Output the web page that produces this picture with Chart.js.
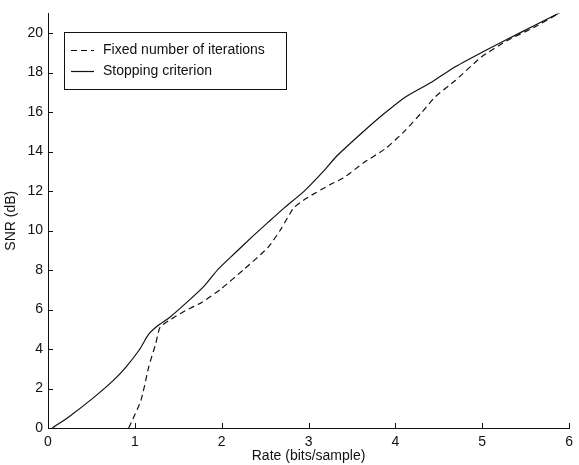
<!DOCTYPE html>
<html>
<head>
<meta charset="utf-8">
<script src="https://cdn.jsdelivr.net/npm/chart.js@4/dist/chart.umd.min.js"></script>
<style>
  html, body { margin: 0; padding: 0; background: #fff; }
  #wrap { width: 579px; height: 465px; }
</style>
</head>
<body>
<div id="wrap"><canvas id="chartCanvas"></canvas></div>
<script>
// data
const rateFixed = [0.93, 1.07, 1.16, 1.24, 1.29, 1.39, 1.58, 1.77, 1.99, 2.26, 2.53, 2.68, 2.83, 2.98, 3.25, 3.4, 3.63, 3.89, 4.12, 4.31, 4.46, 4.69, 4.99, 5.29, 5.6, 5.9];
const snrFixed  = [0, 1.4, 3.1, 4.27, 5.1, 5.44, 5.94, 6.36, 7.04, 8.05, 9.13, 10.06, 11.15, 11.65, 12.33, 12.66, 13.42, 14.17, 15.1, 16.02, 16.78, 17.6, 18.79, 19.63, 20.3, 21.05];

const rateStop = [0.05, 0.25, 0.5, 0.75, 0.9, 1.05, 1.16, 1.27, 1.4, 1.62, 1.8, 1.96, 2.15, 2.34, 2.53, 2.72, 2.95, 3.17, 3.32, 3.59, 3.85, 4.12, 4.42, 4.69, 5.07, 5.45, 5.9];
const snrStop  = [0, 0.6, 1.45, 2.4, 3.1, 3.95, 4.75, 5.2, 5.6, 6.45, 7.2, 8.05, 8.85, 9.64, 10.4, 11.15, 12.0, 13.0, 13.75, 14.85, 15.85, 16.78, 17.53, 18.3, 19.2, 20.05, 21.05];

const seriesNames = ["Fixed number of iterations", "Stopping criterion"];
const xTitle = "Rate (bits/sample)";
const yTitle = "SNR (dB)";

const pts = (xs, ys) => xs.map((x, i) => ({ x: x, y: ys[i] }));

const FONT = "'Liberation Sans', Arial, Helvetica, sans-serif";
const INK = "#111";

// inward ticks, matlab style
const inwardTicks = {
  id: 'inwardTicks',
  afterDraw(chart) {
    const c = chart.ctx;
    const xs = chart.scales.x, ys = chart.scales.y;
    c.save();
    c.strokeStyle = INK;
    c.lineWidth = 1;
    c.beginPath();
    xs.ticks.forEach(t => {
      const p = Math.round(xs.getPixelForValue(t.value)) + 0.5;
      c.moveTo(p, ys.bottom);
      c.lineTo(p, ys.bottom - 5);
    });
    ys.ticks.forEach(t => {
      const p = Math.round(ys.getPixelForValue(t.value)) + 0.5;
      c.moveTo(xs.left, p);
      c.lineTo(xs.left + 5, p);
    });
    c.stroke();
    c.restore();
  }
};

// boxed legend in the top-left corner
const boxLegend = {
  id: 'boxLegend',
  afterDraw(chart) {
    const c = chart.ctx;
    const a = chart.chartArea;
    const x0 = a.left + 16, y0 = a.top + 19;
    const w = 222, h = 57;
    c.save();
    c.fillStyle = '#fff';
    c.fillRect(x0, y0, w, h);
    c.strokeStyle = INK;
    c.lineWidth = 1;
    c.strokeRect(Math.round(x0) + 0.5, Math.round(y0) + 0.5, w, h);
    c.font = "14px " + FONT;
    c.fillStyle = INK;
    c.textBaseline = 'middle';
    chart.data.datasets.forEach((ds, i) => {
      const yy = Math.round(y0 + 18 + i * 21) + 0.5;
      c.beginPath();
      c.setLineDash(ds.borderDash || []);
      c.lineWidth = 1.2;
      c.moveTo(x0 + 7, yy);
      c.lineTo(x0 + 30, yy);
      c.stroke();
      c.setLineDash([]);
      c.fillText(ds.label, x0 + 39, yy);
    });
    c.restore();
  }
};

new Chart(document.getElementById('chartCanvas'), {
  type: 'scatter',
  data: {
    datasets: [
      {
        label: seriesNames[0],
        data: pts(rateFixed, snrFixed),
        showLine: true,
        borderColor: INK,
        borderWidth: 1.2,
        borderDash: [6, 4],
        pointRadius: 0,
        tension: 0.2
      },
      {
        label: seriesNames[1],
        data: pts(rateStop, snrStop),
        showLine: true,
        borderColor: INK,
        borderWidth: 1.2,
        pointRadius: 0,
        tension: 0.2
      }
    ]
  },
  options: {
    responsive: true,
    maintainAspectRatio: false,
    animation: false,
    layout: { padding: { top: 11, right: 3, left: 0, bottom: 0 } },
    plugins: {
      legend: { display: false },
      tooltip: { enabled: false }
    },
    scales: {
      x: {
        type: 'linear',
        min: 0, max: 6,
        grid: { display: false, drawTicks: false },
        border: { color: INK, width: 1 },
        ticks: { stepSize: 1, color: INK, font: { family: FONT, size: 14 }, padding: 6, maxRotation: 0 },
        title: { display: true, text: xTitle, color: INK, font: { family: FONT, size: 14 }, padding: { top: 0, bottom: 0 } },
        afterFit: s => { s.height = 37; }
      },
      y: {
        min: 0, max: 21,
        grid: { display: false, drawTicks: false },
        border: { color: INK, width: 1 },
        ticks: { stepSize: 2, includeBounds: false, color: INK, font: { family: FONT, size: 14 }, padding: 5 },
        title: { display: true, text: yTitle, color: INK, font: { family: FONT, size: 14 }, padding: { top: 3, bottom: 0 } },
        afterFit: s => { s.width = 48; }
      }
    }
  },
  plugins: [inwardTicks, boxLegend]
});
</script>
</body>
</html>
